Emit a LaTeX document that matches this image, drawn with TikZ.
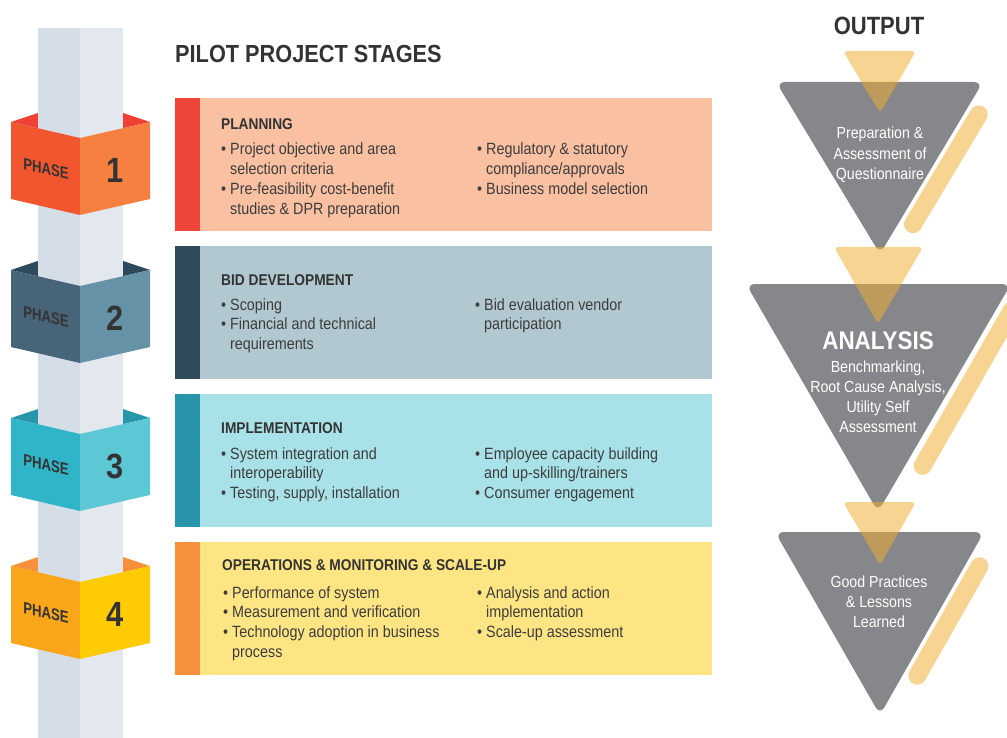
\documentclass[tikz,border=0pt]{standalone}
\usepackage{fontspec}
\setmainfont{Liberation Sans}[FakeStretch=0.88]
\newfontfamily\plainfont{Liberation Sans}

\definecolor{pillarL}{HTML}{D5DDE7}
\definecolor{pillarR}{HTML}{E3E8EF}
\definecolor{phAback}{HTML}{EF4136}
\definecolor{phAleft}{HTML}{F1572F}
\definecolor{phAright}{HTML}{F5803F}
\definecolor{phBback}{HTML}{2D4A5C}
\definecolor{phBleft}{HTML}{486478}
\definecolor{phBright}{HTML}{6592A6}
\definecolor{phCback}{HTML}{2796AA}
\definecolor{phCleft}{HTML}{2FB4C8}
\definecolor{phCright}{HTML}{5CC8D6}
\definecolor{phDback}{HTML}{F7903A}
\definecolor{phDleft}{HTML}{FAA61A}
\definecolor{phDright}{HTML}{FFCB05}
\definecolor{boxA}{HTML}{F9C0A2}
\definecolor{stripA}{HTML}{EF4538}
\definecolor{boxB}{HTML}{B1C8D0}
\definecolor{stripB}{HTML}{2E4A5B}
\definecolor{boxC}{HTML}{A8E1E7}
\definecolor{stripC}{HTML}{2895AB}
\definecolor{boxD}{HTML}{FDE584}
\definecolor{stripD}{HTML}{F6903C}
\definecolor{headgray}{HTML}{333333}
\definecolor{bodygray}{HTML}{3D3D3D}
\definecolor{funnelgray}{HTML}{86878A}
\definecolor{cupyellow}{HTML}{F2AD30}

\newcommand{\bl}{\textbullet\ }
\newcommand{\ind}{\phantom{\textbullet\ }}

\begin{document}
\begin{tikzpicture}[x = 1pt, y = -1pt,
	heading/.style = {anchor = base west, inner sep = 0pt, text = headgray, font = \fontsize{15.6}{18}\selectfont\bfseries},
	items/.style = {anchor = base west, inner sep = 0pt, text = bodygray, font = \fontsize{16.3}{19.8}\selectfont},
	phasetext/.style = {inner sep = 0pt, text = headgray, yslant = -0.23, xscale = 0.8, font = \plainfont\fontsize{16.5}{18}\selectfont\bfseries},
	phasenum/.style = {inner sep = 0pt, text = headgray, font = \fontsize{35}{40}\selectfont\bfseries},
	funnel/.style = {fill = funnelgray, rounded corners = 9pt},
	cup/.style = {fill = cupyellow, fill opacity = 0.52, rounded corners = 4pt},
	bar/.style = {draw = cupyellow, draw opacity = 0.52, line width = 18pt, line cap = round},
	outtext/.style = {anchor = base, inner sep = 0pt, text = white, font = \fontsize{16.1}{20.2}\selectfont}]

	\useasboundingbox (0, 0) rectangle (1007, 738);

	% Phase bands (back side)

	\foreach \n/\y/\colA/\colB/\colC in {1/122/phAback/phAleft/phAright, 2/270/phBback/phBleft/phBright, 3/418/phCback/phCleft/phCright, 4/566/phDback/phDleft/phDright}
	{
		\fill [\colA] (11, \y) -- (38, \y - 9) -- (123, \y - 9) -- (150, \y) -- (80, \y + 16) -- cycle;
	}

	% Pillar

	\fill [pillarL] (38, 28) rectangle (80, 738);
	\fill [pillarR] (80, 28) rectangle (123, 738);

	% Phase bands (front side)

	\foreach \n/\y/\colA/\colB/\colC in {1/122/phAback/phAleft/phAright, 2/270/phBback/phBleft/phBright, 3/418/phCback/phCleft/phCright, 4/566/phDback/phDleft/phDright}
	{
		\fill [\colB] (11, \y) -- (80, \y + 16) -- (80, \y + 93) -- (11, \y + 77) -- cycle;
		\fill [\colC] (80, \y + 16) -- (150, \y) -- (150, \y + 77) -- (80, \y + 93) -- cycle;
		\node [phasetext] (p\n) at (46, \y + 47) {PHASE};
		\node [phasenum] (n\n) at (115, \y + 48) {\n};
	}

	% Stage boxes

	\node [anchor = base west, inner sep = 0pt, text = headgray, font = \fontsize{24.7}{28}\selectfont\bfseries] (title) at (175, 63) {PILOT PROJECT STAGES};

	\foreach \y/\colS/\colB in {98/stripA/boxA, 246/stripB/boxB, 394/stripC/boxC, 542/stripD/boxD}
	{
		\fill [\colB] (175, \y) rectangle (712, \y + 133);
		\fill [\colS] (175, \y) rectangle (200, \y + 133);
	}

	\node [heading] (h1) at (221, 130) {PLANNING};
	\node [items] (l1) at (221, 155) {\begin{tabular}[t]{@{}l@{}}
		\bl Project objective and area\\ \ind selection criteria\\
		\bl Pre-feasibility cost-benefit\\ \ind studies \& DPR preparation
	\end{tabular}};
	\node [items] (r1) at (477, 155) {\begin{tabular}[t]{@{}l@{}}
		\bl Regulatory \& statutory\\ \ind compliance/approvals\\
		\bl Business model selection
	\end{tabular}};

	\node [heading] (h2) at (221, 285) {BID DEVELOPMENT};
	\node [items] (l2) at (221, 310) {\begin{tabular}[t]{@{}l@{}}
		\bl Scoping\\
		\bl Financial and technical\\ \ind requirements
	\end{tabular}};
	\node [items] (r2) at (475, 310) {\begin{tabular}[t]{@{}l@{}}
		\bl Bid evaluation vendor\\ \ind participation
	\end{tabular}};

	\node [heading] (h3) at (221, 433) {IMPLEMENTATION};
	\node [items] (l3) at (221, 459) {\begin{tabular}[t]{@{}l@{}}
		\bl System integration and\\ \ind interoperability\\
		\bl Testing, supply, installation
	\end{tabular}};
	\node [items] (r3) at (475, 459) {\begin{tabular}[t]{@{}l@{}}
		\bl Employee capacity building\\ \ind and up-skilling/trainers\\
		\bl Consumer engagement
	\end{tabular}};

	\node [heading] (h4) at (222, 570) {OPERATIONS \& MONITORING \& SCALE-UP};
	\node [items] (l4) at (223, 598) {\begin{tabular}[t]{@{}l@{}}
		\bl Performance of system\\
		\bl Measurement and verification\\
		\bl Technology adoption in business\\ \ind process
	\end{tabular}};
	\node [items] (r4) at (477, 598) {\begin{tabular}[t]{@{}l@{}}
		\bl Analysis and action\\ \ind implementation\\
		\bl Scale-up assessment
	\end{tabular}};

	% Output funnels

	\node [anchor = base, inner sep = 0pt, text = headgray, font = \fontsize{25}{28}\selectfont\bfseries] (output) at (879, 35) {OUTPUT};

	\draw [bar] (978.8, 114.4) -- (913, 224.3);
	\draw [bar] (1012, 310) -- (922.6, 465.9);
	\draw [bar] (979.5, 566.2) -- (917.3, 675.7);

	\fill [funnel] (776, 82) -- (983, 82) -- (880, 254) -- cycle;
	\fill [funnel] (746, 284) -- (1011, 284) -- (878, 512) -- cycle;
	\fill [funnel] (775, 532) -- (984, 532) -- (880, 715) -- cycle;

	\fill [cup] (843, 51) -- (916, 51) -- (880, 113) -- cycle;
	\fill [cup] (834, 247) -- (923, 247) -- (878, 324) -- cycle;
	\fill [cup] (843, 502) -- (916, 502) -- (880, 565) -- cycle;

	\node [outtext] (o1) at (880, 139) {\begin{tabular}[t]{@{}c@{}}
		Preparation \&\\ Assessment of\\ Questionnaire
	\end{tabular}};
	\node [anchor = base, inner sep = 0pt, text = white, font = \fontsize{25.5}{28}\selectfont\bfseries] (o2h) at (878, 349) {ANALYSIS};
	\node [outtext] (o2) at (878, 372) {\begin{tabular}[t]{@{}c@{}}
		Benchmarking,\\ Root Cause Analysis,\\ Utility Self\\ Assessment
	\end{tabular}};
	\node [outtext] (o3) at (879, 587) {\begin{tabular}[t]{@{}c@{}}
		Good Practices\\ \& Lessons\\ Learned
	\end{tabular}};

\end{tikzpicture}
\end{document}
